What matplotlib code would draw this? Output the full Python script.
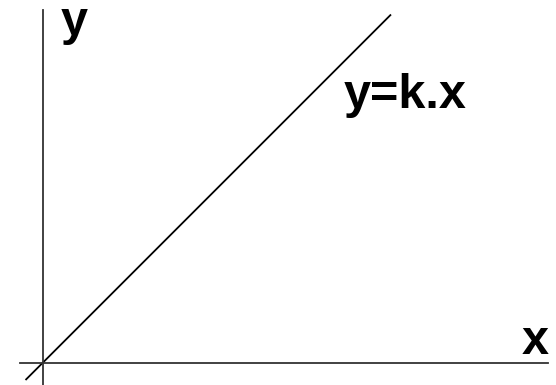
import numpy as np
import matplotlib
matplotlib.use('Agg')
import matplotlib.pyplot as plt

# proportional relation y = k.x
k = 1.0
x_vals = np.array([-0.17, 3.485])
y_vals = k * x_vals

axis_labels = ['x', 'y']
line_label = 'y=k.x'

plt.rcParams['font.family'] = ['Liberation Sans', 'DejaVu Sans']

fig = plt.figure(figsize=(5.56, 3.85), dpi=100)
ax = fig.add_axes([0, 0, 1, 1])
ax.set_xlim(-0.425, 5.135)
ax.set_ylim(-0.22, 3.63)

ax.plot(x_vals, y_vals, color='black', lw=1.3, solid_capstyle='butt')

for side in ['top', 'right']:
    ax.spines[side].set_visible(False)
ax.spines['left'].set_position(('data', 0))
ax.spines['bottom'].set_position(('data', 0))
ax.spines['left'].set_bounds(-0.22, 3.53)
ax.spines['bottom'].set_bounds(-0.225, 5.055)
for side in ['left', 'bottom']:
    ax.spines[side].set_linewidth(1.3)
    ax.spines[side].set_color('#333333')
ax.set_xticks([])
ax.set_yticks([])
ax.patch.set_alpha(0)

ax.text(4.79, 0.09, axis_labels[0], fontsize=35, fontweight='bold', va='baseline', ha='left')
ax.text(0.18, 3.28, axis_labels[1], fontsize=35, fontweight='bold', va='baseline', ha='left')
ax.text(3.01, 2.55, line_label, fontsize=35, fontweight='bold', va='baseline', ha='left')

fig.savefig('out.png', dpi=100)
